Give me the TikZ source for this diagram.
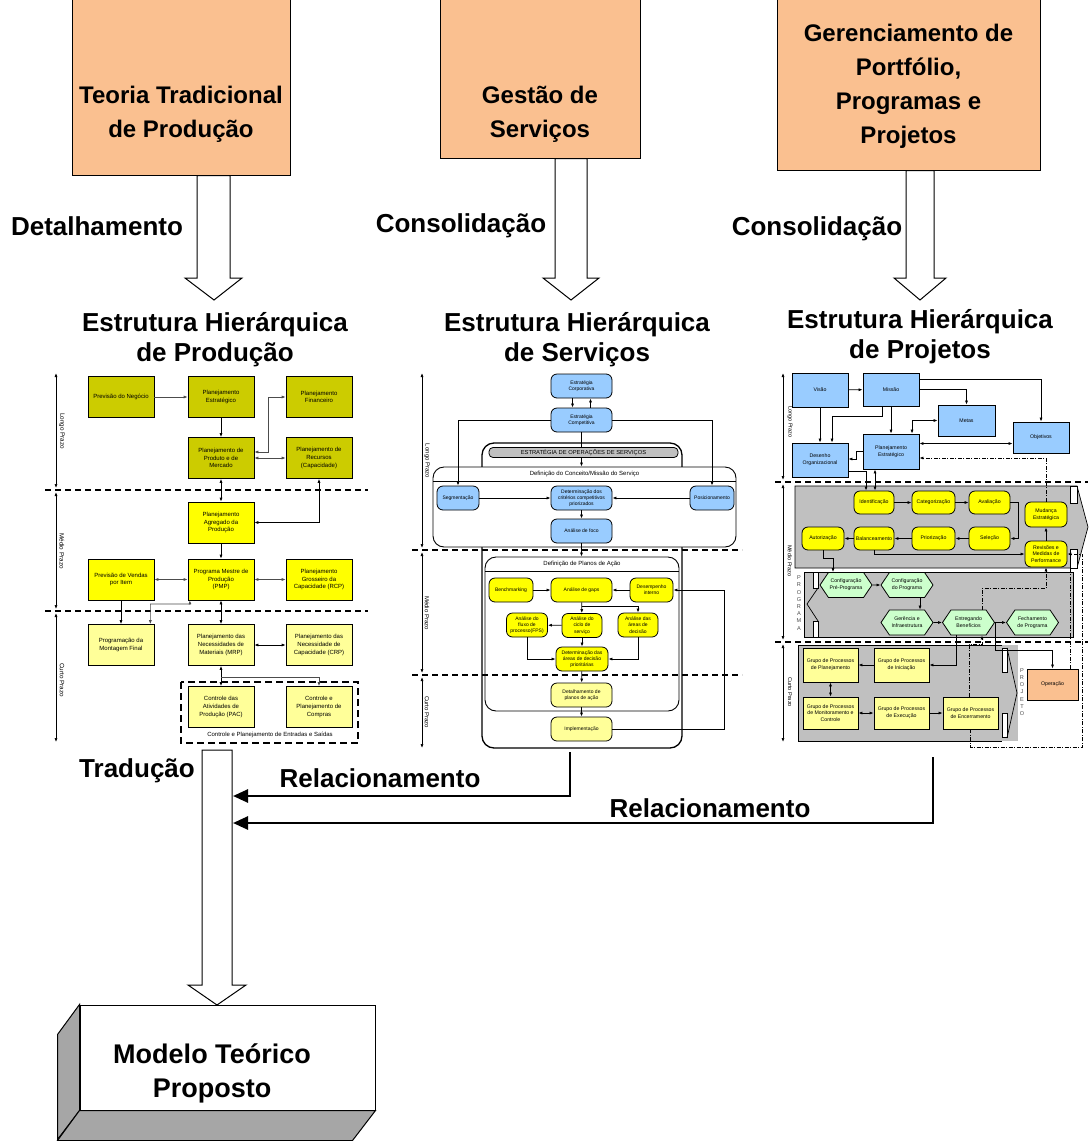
\documentclass[tikz,border=0pt]{standalone}
\usepackage{fontspec}
\setmainfont{Liberation Sans}
\usetikzlibrary{arrows.meta,shapes.symbols,calc}
\definecolor{cPeach}{HTML}{FAC090}
\definecolor{cOlive}{HTML}{CCCC00}
\definecolor{cYel}{HTML}{FFFF00}
\definecolor{cLYel}{HTML}{FFFF99}
\definecolor{cBlue}{HTML}{99CCFF}
\definecolor{cGreen}{HTML}{CCFFCC}
\definecolor{cGray}{HTML}{C0C0C0}
\tikzset{
  big/.style={font=\fontsize{24}{34}\selectfont\bfseries, align=center, inner sep=0pt},
  lbl/.style={font=\fontsize{26}{34}\selectfont\bfseries, align=center, inner sep=0pt},
  sub/.style={font=\fontsize{26}{30}\selectfont\bfseries, align=center, inner sep=0pt},
  topbox/.style={draw, fill=cPeach, line width=1pt},
  hollow/.style={draw, fill=white, line width=1pt},
  lbox/.style={draw, line width=0.7pt, align=center, inner sep=0pt,
    font=\fontsize{6}{7.6}\selectfont, minimum width=66pt, minimum height=41pt},
  mbox/.style={draw, rounded corners=6pt, line width=0.8pt, align=center, inner sep=0pt,
    font=\fontsize{5}{6.3}\selectfont, minimum height=24pt},
  rbox/.style={draw, line width=0.8pt, align=center, inner sep=0pt,
    font=\fontsize{5.2}{6.8}\selectfont},
  pill/.style={rbox, rounded corners=6pt, fill=cYel, minimum height=23pt},
  hexa/.style={draw, signal, signal to=east and west, signal pointer angle=112,
    fill=cGreen, line width=0.8pt, align=center, inner sep=0pt,
    font=\fontsize{5.2}{6.8}\selectfont, minimum width=52pt, minimum height=25pt},
  arr/.style={-{Latex[length=4pt,width=3pt]}, line width=0.7pt},
  darr/.style={{Latex[length=4pt,width=3pt]}-{Latex[length=4pt,width=3pt]}, line width=0.7pt},
  garr/.style={arr, draw=black!70},
  gdarr/.style={darr, draw=black!70},
  sep/.style={dash pattern=on 6pt off 4pt, line width=1.6pt},
  dd/.style={dash pattern=on 4pt off 1.5pt on 1pt off 1.5pt, line width=0.9pt},
  bigarr/.style={-{Triangle[length=15pt,width=13pt]}, line width=2.6pt},
  tlab/.style={rotate=-90, inner sep=0pt},
  region/.style={fill=cGray, draw, line width=0.7pt},
}
\begin{document}
\begin{tikzpicture}[x=1pt,y=-1pt]
\useasboundingbox (0,0) rectangle (1088,1141);
\fill[white] (0,0) rectangle (1088,1141);

% ---------------- top level boxes ----------------
\node[topbox, minimum width=218pt, minimum height=176pt] (b1) at (181,87) {};
\node[topbox, minimum width=200pt, minimum height=159pt] (b2) at (540,78.5) {};
\node[topbox, minimum width=263pt, minimum height=171pt] (b3) at (908.5,84.5) {};
\node[big] (b1t) at (181,114) {Teoria Tradicional\\de Produção};
\node[big] (b2t) at (540,114) {Gestão de\\Serviços};
\node[big] (b3t) at (908.5,86) {Gerenciamento de\\Portfólio,\\Programas e\\Projetos};

% hollow arrows from the boxes to the hierarchies
\draw[hollow] (b1.south -| 197,0) -- (197,278) -- (185,278) -- (214,300) -- (242,278) -- (230,278) -- (b1.south -| 230,0) -- cycle;
\draw[hollow] (b2.south -| 555,0) -- (555,278) -- (543,278) -- (571,300) -- (599,278) -- (587,278) -- (b2.south -| 587,0) -- cycle;
\draw[hollow] (b3.south -| 906,0) -- (906,278) -- (894,278) -- (920,300) -- (946,278) -- (934,278) -- (b3.south -| 934,0) -- cycle;

\node[lbl] (lDet) at (97,226) {Detalhamento};
\node[lbl] (lCon1) at (461,226) {Consolidação};
\node[lbl] (lCon2) at (817,229) {Consolidação};

\node[sub] (s1) at (215,340) {Estrutura Hierárquica\\de Produção};
\node[sub] (s2) at (577,340) {Estrutura Hierárquica\\de Serviços};
\node[sub] (s3) at (920,337) {Estrutura Hierárquica\\de Projetos};

% ================= production hierarchy =================
\draw[sep] (45,490) -- (368,490);
\draw[sep] (45,611) -- (368,611);
\draw[darr] (56,373) -- (56,488);
\draw[darr] (56,492) -- (56,609);
\draw[darr] (56,613) -- (56,742);
\node[tlab, font=\fontsize{6.3}{7}\selectfont] (lp1) at (62,431) {Longo Prazo};
\node[tlab, font=\fontsize{6.3}{7}\selectfont] (mp1) at (62,551) {Médio Prazo};
\node[tlab, font=\fontsize{6.3}{7}\selectfont] (cp1) at (62,680) {Curto Prazo};

\draw[dash pattern=on 7pt off 4pt, line width=1.6pt] (181,682) rectangle (358,743);
\node[font=\fontsize{6}{7}\selectfont] (cpes) at (270,735) {Controle e Planejamento de Entradas e Saídas};

\node[lbox, fill=cOlive] (prevneg) at (121,397) {Previsão do Negócio};
\node[lbox, fill=cOlive] (planest) at (221,397) {Planejamento\\Estratégico};
\node[lbox, fill=cOlive] (planfin) at (319,397) {Planejamento\\Financeiro};
\node[lbox, fill=cOlive] (prodmerc) at (221,458) {Planejamento de\\Produto e de\\Mercado};
\node[lbox, fill=cOlive] (recursos) at (319,458) {Planejamento de\\Recursos\\(Capacidade)};
\node[lbox, fill=cYel] (agreg) at (221,522.5) {Planejamento\\Agregado da\\Produção};
\node[lbox, fill=cYel] (prevvend) at (121,579.5) {Previsão de Vendas\\por Item};
\node[lbox, fill=cYel] (pmp) at (221,579.5) {Programa Mestre de\\Produção\\(PMP)};
\node[lbox, fill=cYel] (rcp) at (319,579.5) {Planejamento\\Grosseiro da\\Capacidade (RCP)};
\node[lbox, fill=cLYel] (montagem) at (121,645) {Programação da\\Montagem Final};
\node[lbox, fill=cLYel] (mrp) at (221,645) {Planejamento das\\Necessidades de\\Materiais (MRP)};
\node[lbox, fill=cLYel] (crp) at (319,645) {Planejamento das\\Necessidade de\\Capacidade (CRP)};
\node[lbox, fill=cLYel] (pac) at (221,707) {Controle das\\Atividades de\\Produção (PAC)};
\node[lbox, fill=cLYel] (compras) at (319,707) {Controle e\\Planejamento de\\Compras};

\draw[garr] (prevneg) -- (planest);
\draw[arr] (planest) -- (prodmerc);
\draw[gdarr] ([yshift=6pt]prodmerc.east) -- (268,452) |- (planfin.west);
\draw[gdarr] (prodmerc) -- (recursos);
\draw[darr] (prodmerc) -- (agreg);
\draw[darr] (recursos.south) |- (agreg.east);
\draw[arr] (agreg) -- (pmp);
\draw[gdarr] (prevvend) -- (pmp);
\draw[gdarr] (pmp) -- (rcp);
\draw[arr] (prevvend) -- (montagem);
\draw[gdarr] ([xshift=-4pt]montagem.north east) |- (190,604) -- ([xshift=2pt]pmp.south west);
\draw[darr] (pmp) -- (mrp);
\draw[darr] (mrp) -- (crp);
\draw[darr] (mrp) -- (pac);
\coordinate (lj) at (221,677);
\draw[garr] (lj) -| (compras.north);

% ================= services hierarchy =================
\draw[sep] (412,550) -- (742,550);
\draw[sep] (412,675) -- (742,675);
\draw[darr] (422,373) -- (422,548);
\draw[darr] (422,552) -- (422,673);
\draw[darr] (422,677) -- (422,748);
\node[tlab, font=\fontsize{6}{7}\selectfont] (lp2) at (427,461) {Longo Prazo};
\node[tlab, font=\fontsize{6}{7}\selectfont] (mp2) at (427,613) {Médio Prazo};
\node[tlab, font=\fontsize{6}{7}\selectfont] (cp2) at (427,712) {Curto Prazo};

\node[draw, rounded corners=12pt, line width=1.3pt, minimum width=200pt, minimum height=305pt] (outer) at (582,595.5) {};
\node[draw, rounded corners=11pt, line width=0.9pt, fill=white, minimum width=303pt, minimum height=80pt] (conceito) at (584.5,507) {};
\draw[line width=0.9pt] (433,481) -- (736,481);
\node[font=\fontsize{6}{7}\selectfont] (conceitot) at (584.5,474) {Definição do Conceito/Missão do Serviço};
\node[draw, rounded corners=11pt, line width=0.9pt, minimum width=194pt, minimum height=154pt] (planos) at (582,634) {};
\draw[line width=0.9pt] (485,571) -- (679,571);
\node[font=\fontsize{6}{7}\selectfont] (planost) at (582,564) {Definição de Planos de Ação};

\node[mbox, fill=cBlue, minimum width=61pt] (corp) at (581.5,386) {Estratégia\\Corporativa};
\node[mbox, fill=cBlue, minimum width=61pt] (compet) at (581.5,420) {Estratégia\\Competitiva};
\draw[arr] (compet.south) -- (compet.south |- conceito.north);
\node[draw, rounded corners=4pt, fill=cGray, line width=0.8pt, minimum width=189pt, minimum height=10pt, inner sep=0pt, font=\fontsize{5.8}{6}\selectfont] (bar) at (583.5,452.5) {ESTRATÉGIA DE OPERAÇÕES DE SERVIÇOS};
\node[mbox, fill=cBlue, minimum width=42pt] (segm) at (458,498) {Segmentação};
\node[mbox, fill=cBlue, minimum width=61pt] (determ) at (581.5,498) {Determinação dos\\critérios competitivos\\priorizados};
\node[mbox, fill=cBlue, minimum width=44pt] (posic) at (712,498) {Posicionamento};
\node[mbox, fill=cBlue, minimum width=61pt] (foco) at (581.5,531) {Análise de foco};
\node[mbox, fill=cYel, minimum width=44pt] (bench) at (511,590) {Benchmarking};
\node[mbox, fill=cYel, minimum width=61pt] (gaps) at (581.5,590) {Análise de gaps};
\node[mbox, fill=cYel, minimum width=43pt] (desemp) at (651.5,590) {Desempenho\\interno};
\node[mbox, fill=cYel, minimum width=41pt] (fluxo) at (527,625) {Análise do\\fluxo de\\processo(FPS)};
\node[mbox, fill=cYel, minimum width=40pt] (ciclo) at (582,625.5) {Análise do\\ciclo de\\serviço};
\node[mbox, fill=cYel, minimum width=40pt] (areas) at (638,625) {Análise das\\áreas de\\decisão};
\node[mbox, fill=cYel, minimum width=52pt] (prior) at (582,659) {Determinação das\\áreas de decisão\\prioritárias};
\node[mbox, fill=cLYel, minimum width=61pt] (detal) at (581.5,695) {Detalhamento de\\planos de ação};
\node[mbox, fill=cLYel, minimum width=61pt] (impl) at (581.5,729) {Implementação};

\draw[arr] ([xshift=-9pt]corp.south) -- ([xshift=-9pt]compet.north);
\draw[arr] ([xshift=9pt]compet.north) -- ([xshift=9pt]corp.south);
\draw[arr] (compet.west) -| (segm.north);
\draw[arr] (compet.east) -| (posic.north);
\draw[arr] (segm) -- (determ);
\draw[arr] (posic) -- (determ);
\draw[arr] (determ) -- (foco);
\draw[arr] (foco.south) -- (foco.south |- planos.north);
\draw[arr] (bench) -- (gaps);
\draw[arr] (desemp) -- (gaps);
\draw[arr] (gaps) -- (ciclo);
\coordinate (mj) at (582,606);
\draw[arr] (mj) -| (areas.north);
\draw[arr] (ciclo) -- (fluxo);
\draw[arr] (ciclo) -- (prior);
\draw[arr] (fluxo.south) |- (prior.west);
\draw[arr] (areas.south) |- (prior.east);
\draw[arr] (prior) -- (detal);
\draw[arr] (detal) -- (impl);
\draw[arr] (impl.east) -- (724,729) |- (desemp.east);

% ================= project hierarchy =================
% portfolio band
\draw[region] (795,486) -- (1077,486) -- (1088,527) -- (1077,568) -- (795,568) -- cycle;
\draw[fill=white, line width=0.7pt] (1070,486) rectangle (1077,503);
\draw[fill=white, line width=0.7pt] (1070,549) rectangle (1077,568);
% program band
\draw[region] (804,572) rectangle (1073,637);
\draw[fill=white, line width=0.7pt] (813,572) rectangle (818,588);
\draw[fill=white, line width=0.7pt] (813,621) rectangle (818,637);
\draw[line width=0.7pt] (818,588) -- (807,604) -- (818,621);
% project band
\fill[cGray] (798,645) rectangle (1018,741);
\draw[line width=0.7pt] (1002,645) -- (798,645) -- (798,741) -- (1002,741);
\draw[fill=white, line width=0.7pt] (1002,648) rectangle (1007,672);
\draw[fill=white, line width=0.7pt] (1002,713) rectangle (1007,737);
\draw[line width=0.7pt] (1007,648) -- (1017,693) -- (1007,738);

\draw[sep] (775,482) -- (1088,482);
\draw[sep] (775,642) -- (1088,642);
\draw[darr] (783,373) -- (783,480);
\draw[darr] (783,484) -- (783,640);
\draw[darr] (783,644) -- (783,742);
\node[tlab, font=\fontsize{5.6}{7}\selectfont] (lp3) at (790,422) {Longo Prazo};
\node[tlab, font=\fontsize{5.6}{7}\selectfont] (mp3) at (790,561) {Médio Prazo};
\node[tlab, font=\fontsize{5.6}{7}\selectfont] (cp3) at (790,692) {Curto Prazo};

\node[align=center, inner sep=0pt, font=\fontsize{5.6}{7.2}\selectfont, text=black!70] (prog) at (799,603) {P\\R\\O\\G\\R\\A\\M\\A};
\node[align=center, inner sep=0pt, font=\fontsize{5.6}{7.2}\selectfont, text=black!70] (proj) at (1022,692) {P\\R\\O\\J\\E\\T\\O};

\node[rbox, fill=cBlue, minimum width=56pt, minimum height=34pt] (visao) at (820,390) {Visão};
\node[rbox, fill=cBlue, minimum width=56pt, minimum height=33pt] (missao) at (891,389.5) {Missão};
\node[rbox, fill=cBlue, minimum width=57pt, minimum height=31pt] (metas) at (966.5,420.5) {Metas};
\node[rbox, fill=cBlue, minimum width=56pt, minimum height=31pt] (objetivos) at (1041,437.5) {Objetivos};
\node[rbox, fill=cBlue, minimum width=56pt, minimum height=34pt] (desenho) at (820,460) {Desenho\\Organizacional};
\node[rbox, fill=cBlue, minimum width=56pt, minimum height=35pt] (planestr) at (891,451.5) {Planejamento\\Estratégico};

\node[pill, minimum width=40pt] (ident) at (874,502.5) {Identificação};
\node[pill, minimum width=43pt] (categ) at (933.5,502.5) {Categorização};
\node[pill, minimum width=41pt] (aval) at (989.5,502.5) {Avaliação};
\node[pill, minimum width=42pt, minimum height=25pt] (mudanca) at (1046,514.5) {Mudança\\Estratégica};
\node[pill, minimum width=42pt] (autor) at (823,538.5) {Autorização};
\node[pill, minimum width=40pt] (balan) at (874,538.5) {Balanceamento};
\node[pill, minimum width=43pt] (prioriz) at (933.5,538.5) {Priorização};
\node[pill, minimum width=41pt] (selec) at (989.5,538.5) {Seleção};
\node[pill, minimum width=42pt, minimum height=26pt] (revis) at (1046,554) {Revisões e\\Medidas de\\Performance};

\node[hexa] (confpre) at (846,585) {Configuração\\Pré-Programa};
\node[hexa] (confprog) at (907,585) {Configuração\\do Programa};
\node[hexa] (gerencia) at (907,622.5) {Gerência e\\Infraestrutura};
\node[hexa] (entreg) at (968.5,622.5) {Entregando\\Benefícios};
\node[hexa] (fecham) at (1032.5,622.5) {Fechamento\\de Programa};

\node[rbox, fill=cLYel, minimum width=55pt, minimum height=34pt] (gplan) at (830.5,665) {Grupo de Processos\\de Planejamento};
\node[rbox, fill=cLYel, minimum width=55pt, minimum height=34pt] (ginic) at (901.5,665) {Grupo de Processos\\de Iniciação};
\node[rbox, fill=cLYel, minimum width=55pt, minimum height=32pt] (gmon) at (830.5,713) {Grupo de Processos\\de Monitoramento e\\Controle};
\node[rbox, fill=cLYel, minimum width=55pt, minimum height=32pt] (gexec) at (901.5,713) {Grupo de Processos\\de Execução};
\node[rbox, fill=cLYel, minimum width=55pt, minimum height=32pt] (gencer) at (970.5,713) {Grupo de Processos\\de Encerramento};
\node[rbox, fill=cPeach, minimum width=51pt, minimum height=31pt] (operacao) at (1052.5,684.5) {Operação};

% strategic level links
\draw[arr] (visao) -- (missao);
\draw[arr] (visao) -- (desenho);
\draw[arr] ([xshift=-9pt]missao.south) |- (832,416) -- ([xshift=12pt]desenho.north);
\draw[arr] (missao) -- (planestr);
\draw[arr] ([yshift=10pt]missao.east) -| (objetivos.north);
\draw[arr] (missao.east) -| (metas.north);
\draw[darr] (metas.west) -| ([xshift=21pt]planestr.north);
\coordinate (pe1) at ([yshift=8pt]planestr.east);
\draw[darr] (pe1) -- (pe1 -| objetivos.west);
\draw[arr] (planestr.west) -- ++(-6,0) |- ([yshift=1pt]desenho.east);
\draw[arr] ([yshift=-11pt]desenho.east) -| ([xshift=-8pt]ident.north);
\coordinate (ps) at ([xshift=-16pt]planestr.south);
\draw[darr] (ps) -- (ps |- ident.north);
\draw[dd, arr] (mudanca.north) |- ([yshift=-6.5pt]planestr.east);

% portfolio links
\draw[arr] (ident) -- (categ);
\draw[arr] (categ) -- (aval);
\draw[arr] (aval.east) -- ++(8,0) |- (selec.east);
\draw[arr] (selec) -- (prioriz);
\draw[arr] (prioriz) -- (balan);
\draw[arr] (balan) -- (autor);
\draw[arr] (balan.south) |- (revis.west);
\draw[arr] (revis) -- (mudanca);
\draw[arr] (autor.south) |- ([xshift=-13pt,yshift=14pt]confpre.north) -- ([xshift=-13pt]confpre.north);

% program links
\draw[arr] (confpre) -- (confprog);
\draw[arr] ([xshift=13pt]confprog.south) -- ([xshift=13pt]gerencia.north);
\draw[arr] (gerencia) -- (entreg);
\draw[arr] (entreg) -- (fecham);
\draw[arr] ([xshift=-12.5pt]entreg.south) |- (ginic.east);
\draw[arr] (entreg.east) -- ++(0,27.5) -| (operacao.north);
\coordinate (rv) at ([yshift=-21pt]revis.south);
\draw[dd, arr] ([xshift=13.5pt]entreg.north) |- (rv) -- (revis.south);

% project links
\draw[arr] (ginic) -- (gplan);
\draw[darr] (gplan) -- (gmon);
\draw[darr] (gmon) -- (gexec);
\draw[arr] (gexec) -- (gencer);
\draw[dd, arr] ([xshift=-1.5pt]gencer.north) -- ++(0,-52) -| ([xshift=13.5pt]entreg.south);
\draw[dd, arr] (gencer.south) -- ++(0,18) -| ([xshift=15pt]revis.east) -- (revis.east);
\draw[dd] ([xshift=17.5pt]operacao.north) |- (revis.east);

% ================= synthesis =================
\node[draw, fill=white, line width=1pt, minimum width=295pt, minimum height=105pt] (modelo) at (227.5,1057.5) {};
\fill[gray!70, draw=black, line width=1pt] (modelo.north west) -- ++(-22,30) -- ++(0,105) -- (modelo.south west) -- cycle;
\fill[gray!70, draw=black, line width=1pt] (modelo.south west) -- ++(-22,30) -- ++(295,0) -- (modelo.south east) -- cycle;
\node[font=\fontsize{27}{34}\selectfont\bfseries, align=center, inner sep=0pt] (modelot) at (212,1073) {Modelo Teórico\\Proposto};

\draw[hollow] (202,750) -- (202,985) -- (188,985) -- (217,1005) -- (246,985) -- (232,985) -- (232,750) -- cycle;
\node[lbl] (ltrad) at (137,771) {Tradução};

\coordinate (r1s) at (570,752);
\coordinate (r1e) at (233,796);
\coordinate (r2s) at (933,757);
\coordinate (r2e) at (233,823);
\draw[bigarr] (r1s) |- (r1e);
\draw[bigarr] (r2s) |- (r2e);
\node[lbl] (lrel1) at (380,778) {Relacionamento};
\node[lbl] (lrel2) at (710,808) {Relacionamento};
\end{tikzpicture}
\end{document}
